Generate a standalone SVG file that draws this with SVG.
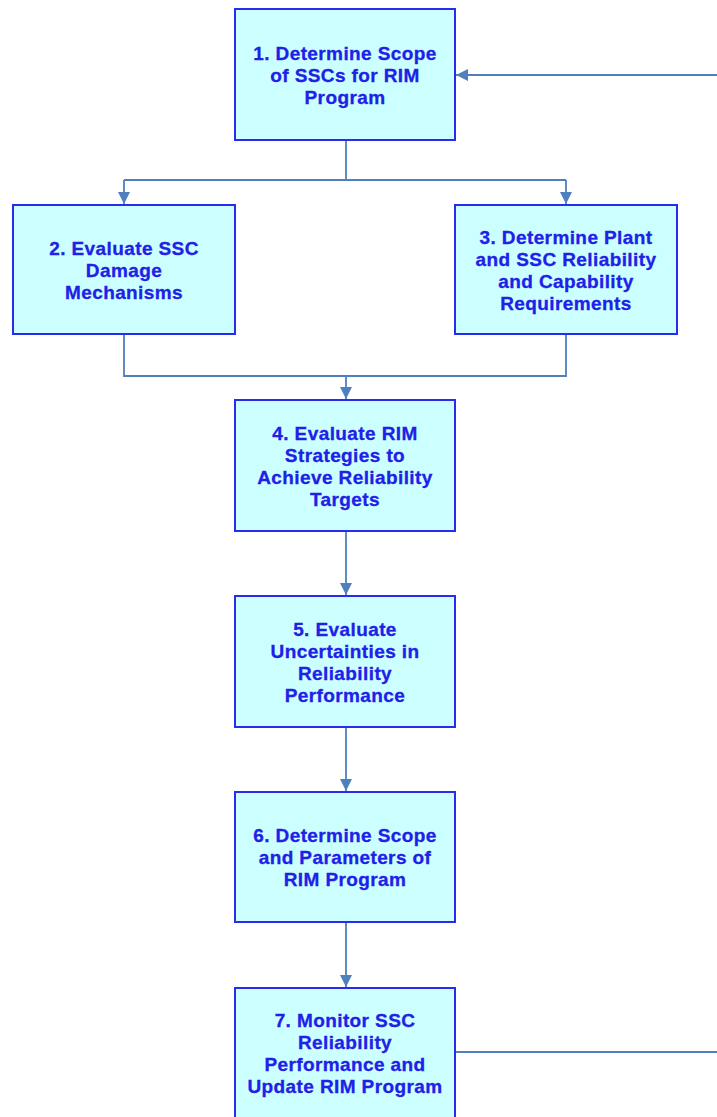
<svg xmlns="http://www.w3.org/2000/svg" width="717" height="1117" viewBox="0 0 717 1117">
<style>
.box{fill:#CCFFFF;stroke:#2B2BF0;stroke-width:2}
.lbl{font-family:"Liberation Sans",Arial,sans-serif;font-weight:bold;font-size:19px;letter-spacing:0.4px;fill:#2020E8;stroke:#2020E8;stroke-width:0.3;text-anchor:middle}
.con{fill:none;stroke:#4F7FBE;stroke-width:1.8}
</style>
<defs>
<marker id="ah" viewBox="0 0 12 12" refX="12" refY="6" markerWidth="12" markerHeight="12" markerUnits="userSpaceOnUse" orient="auto">
<path d="M0,0 L12,6 L0,12 Z" fill="#4F7FBE"/>
</marker>
</defs>
<g id="connectors">
<path class="con" d="M717,75 L456,75" marker-end="url(#ah)"/>
<path class="con" d="M346,140 L346,180"/>
<path class="con" d="M124,180 L566,180"/>
<path class="con" d="M124,180 L124,204" marker-end="url(#ah)"/>
<path class="con" d="M566,180 L566,204" marker-end="url(#ah)"/>
<path class="con" d="M124,334 L124,376 L566,376 L566,334"/>
<path class="con" d="M346,376 L346,399" marker-end="url(#ah)"/>
<path class="con" d="M346,531 L346,595" marker-end="url(#ah)"/>
<path class="con" d="M346,727 L346,791" marker-end="url(#ah)"/>
<path class="con" d="M346,922 L346,987" marker-end="url(#ah)"/>
<path class="con" d="M455,1052 L717,1052"/>
</g>
<g id="node1">
<rect class="box" x="235" y="9" width="220" height="131"/>
<text class="lbl" x="345" y="60">1. Determine Scope</text>
<text class="lbl" x="345" y="82">of SSCs for RIM</text>
<text class="lbl" x="345" y="104">Program</text>
</g>
<g id="node2">
<rect class="box" x="13" y="205" width="222" height="129"/>
<text class="lbl" x="124" y="255">2. Evaluate SSC</text>
<text class="lbl" x="124" y="277">Damage</text>
<text class="lbl" x="124" y="299">Mechanisms</text>
</g>
<g id="node3">
<rect class="box" x="455" y="205" width="222" height="129"/>
<text class="lbl" x="566" y="244">3. Determine Plant</text>
<text class="lbl" x="566" y="266">and SSC Reliability</text>
<text class="lbl" x="566" y="288">and Capability</text>
<text class="lbl" x="566" y="310">Requirements</text>
</g>
<g id="node4">
<rect class="box" x="235" y="400" width="220" height="131"/>
<text class="lbl" x="345" y="440">4. Evaluate RIM</text>
<text class="lbl" x="345" y="462">Strategies to</text>
<text class="lbl" x="345" y="484">Achieve Reliability</text>
<text class="lbl" x="345" y="506">Targets</text>
</g>
<g id="node5">
<rect class="box" x="235" y="596" width="220" height="131"/>
<text class="lbl" x="345" y="636">5. Evaluate</text>
<text class="lbl" x="345" y="658">Uncertainties in</text>
<text class="lbl" x="345" y="680">Reliability</text>
<text class="lbl" x="345" y="702">Performance</text>
</g>
<g id="node6">
<rect class="box" x="235" y="792" width="220" height="130"/>
<text class="lbl" x="345" y="842">6. Determine Scope</text>
<text class="lbl" x="345" y="864">and Parameters of</text>
<text class="lbl" x="345" y="886">RIM Program</text>
</g>
<g id="node7">
<rect class="box" x="235" y="988" width="220" height="140"/>
<text class="lbl" x="345" y="1027">7. Monitor SSC</text>
<text class="lbl" x="345" y="1049">Reliability</text>
<text class="lbl" x="345" y="1071">Performance and</text>
<text class="lbl" x="345" y="1093">Update RIM Program</text>
</g>
</svg>
